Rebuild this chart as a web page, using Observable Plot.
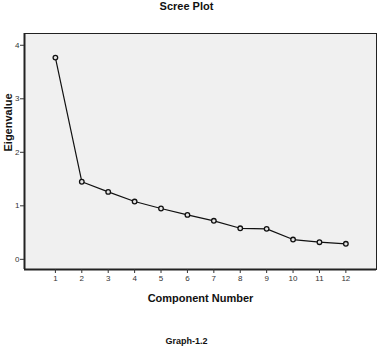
<!DOCTYPE html>
<html>
<head>
<meta charset="utf-8">
<script src="https://cdn.jsdelivr.net/npm/d3@7"></script>
<script src="https://cdn.jsdelivr.net/npm/@observablehq/plot@0.6"></script>
<style>
  html, body { margin: 0; padding: 0; background: #ffffff; }
  #chart svg { display: block; }
</style>
</head>
<body>
<div id="chart"></div>
<script>
const components = [1, 2, 3, 4, 5, 6, 7, 8, 9, 10, 11, 12];
const eigenvalues = [3.77, 1.45, 1.26, 1.08, 0.95, 0.83, 0.72, 0.58, 0.57, 0.37, 0.32, 0.29];
const yTicks = [0, 1, 2, 3, 4];
const xTicks = components;
const titleText = "Scree Plot";
const xLabel = "Component Number";
const yLabel = "Eigenvalue";
const captionText = "Graph-1.2";

const xDomain = [-0.17, 13.16];
const yDomain = [-0.19, 4.22];

const data = components.map((c, i) => ({component: c, eigenvalue: eigenvalues[i]}));

const font = "'Liberation Sans', Arial, Helvetica, sans-serif";

const chart = Plot.plot({
  width: 392,
  height: 359,
  marginTop: 33,
  marginBottom: 90,
  marginLeft: 24,
  marginRight: 16,
  style: {fontFamily: font, background: "#ffffff", color: "#333"},
  x: {domain: xDomain, axis: null},
  y: {domain: yDomain, axis: null},
  marks: [
    Plot.frame({fill: "#f0f0f0", stroke: "#222", strokeWidth: 1}),
    Plot.ruleX([xDomain[0]], {stroke: "#222", strokeWidth: 2}),
    Plot.ruleY([yDomain[0]], {stroke: "#222", strokeWidth: 2}),
    Plot.axisY({ticks: yTicks, tickSize: 4, tickPadding: 1, fontSize: 8, tickFormat: d => d, stroke: "#333", fill: "#333", label: null}),
    Plot.axisX({ticks: xTicks, tickSize: 4, tickPadding: 2, fontSize: 8, tickFormat: d => d, stroke: "#333", fill: "#333", label: null}),
    Plot.line(data, {x: "component", y: "eigenvalue", stroke: "#111", strokeWidth: 1.2}),
    Plot.dot(data, {x: "component", y: "eigenvalue", r: 2.3, stroke: "#111", strokeWidth: 1.3, fill: "#e4e4e4"}),
    Plot.text([titleText], {frameAnchor: "top", dy: -31, dx: -14, text: d => d, fontSize: 11, fontWeight: "bold", fill: "#111"}),
    Plot.text([xLabel], {frameAnchor: "bottom", dy: 32, dx: 0, text: d => d, fontSize: 11, fontWeight: "bold", fill: "#111"}),
    Plot.text([captionText], {frameAnchor: "bottom", dy: 74, dx: -14, text: d => d, fontSize: 9, fontWeight: "bold", fill: "#111"}),
    Plot.text([yLabel], {frameAnchor: "left", dx: -16, rotate: -90, text: d => d, fontSize: 11, fontWeight: "bold", fill: "#111"})
  ]
});

document.getElementById("chart").appendChild(chart);
</script>
</body>
</html>
